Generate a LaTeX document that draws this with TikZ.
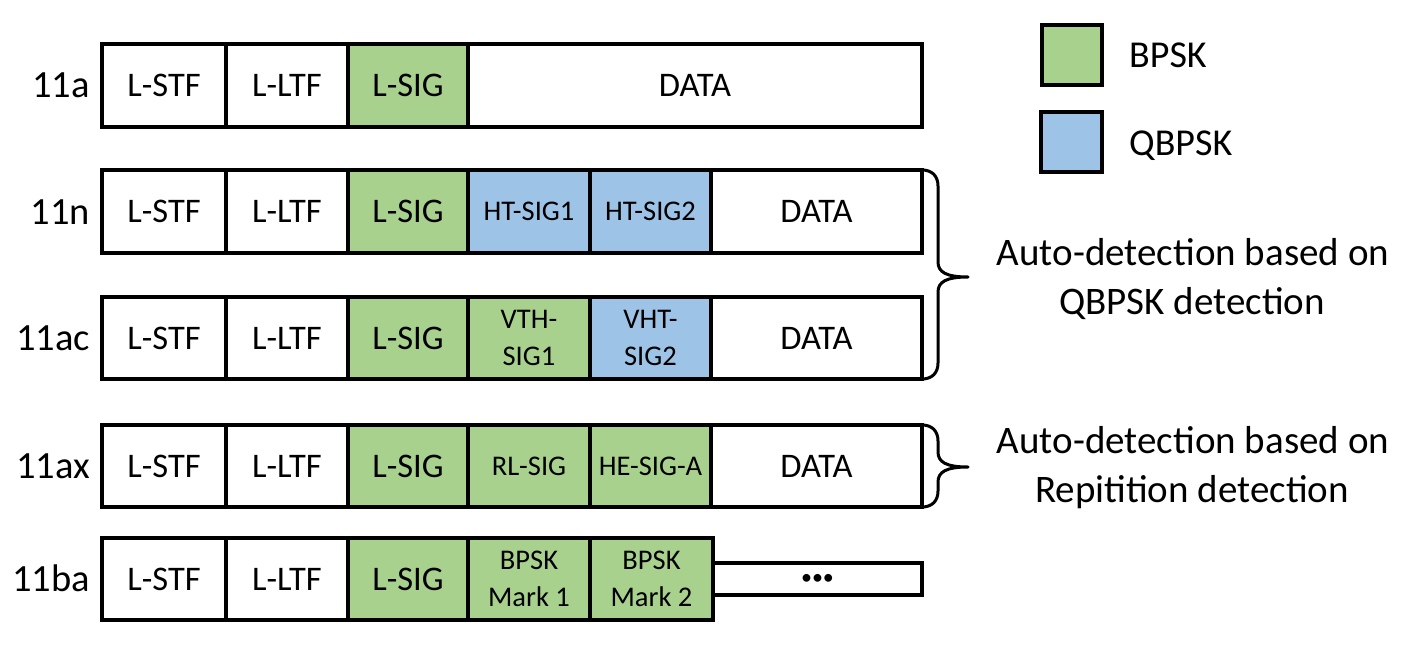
\documentclass[tikz,border=0pt]{standalone}
\usepackage{fontspec}
\setmainfont{Carlito}
\definecolor{bpsk}{RGB}{169,209,142}
\definecolor{qbpsk}{RGB}{157,195,230}
\tikzset{
  cellbox/.style={draw=black, line width=4pt, inner sep=0pt, align=center,
    font=\fontsize{34.5}{40}\selectfont},
  smalltext/.style={font=\fontsize{28.5}{36.5}\selectfont},
  rowlabel/.style={anchor=base east, inner sep=0pt, font=\fontsize{38.5}{44}\selectfont},
  legendbox/.style={draw=black, line width=4pt, inner sep=0pt},
  legendtext/.style={anchor=base west, inner sep=0pt, font=\fontsize{38}{44}\selectfont},
  bracepath/.style={draw=black, line width=3pt, line join=round, line cap=round},
  notetext/.style={anchor=base, inner sep=0pt, font=\fontsize{39}{49}\selectfont},
}
% name, x1, x2, ytop, ybot, options, text
\newcommand\cellat[7]{%
  \node[cellbox, #6, minimum width={(#3-#2)*1pt}, minimum height={(#5-#4)*1pt}]
    (#1) at ({(#2+#3)/2},{(#4+#5)/2}) {#7};}
\begin{document}
\begin{tikzpicture}[x=1pt,y=-1pt]
\useasboundingbox (0,0) rectangle (1426,666);
\fill[white] (0,0) rectangle (1426,666);

% row 11a
\cellat{a1}{102}{226}{44}{127}{fill=white}{L-STF}
\cellat{a2}{226}{348}{44}{127}{fill=white}{L-LTF}
\cellat{a3}{348}{468}{44}{127}{fill=bpsk}{L-SIG}
\cellat{a4}{468}{922}{44}{127}{fill=white}{DATA}
\node[rowlabel] (la) at (90,98) {11a};

% row 11n
\cellat{n1}{102}{226}{170}{253}{fill=white}{L-STF}
\cellat{n2}{226}{348}{170}{253}{fill=white}{L-LTF}
\cellat{n3}{348}{468}{170}{253}{fill=bpsk}{L-SIG}
\cellat{n4}{468}{590}{170}{253}{fill=qbpsk,smalltext}{HT-SIG1}
\cellat{n5}{590}{711}{170}{253}{fill=qbpsk,smalltext}{HT-SIG2}
\cellat{n6}{711}{922}{170}{253}{fill=white}{DATA}
\node[rowlabel] (ln) at (90,224) {11n};

% row 11ac
\cellat{c1}{102}{226}{297}{379}{fill=white}{L-STF}
\cellat{c2}{226}{348}{297}{379}{fill=white}{L-LTF}
\cellat{c3}{348}{468}{297}{379}{fill=bpsk}{L-SIG}
\cellat{c4}{468}{590}{297}{379}{fill=bpsk,smalltext}{VTH-\\SIG1}
\cellat{c5}{590}{711}{297}{379}{fill=qbpsk,smalltext}{VHT-\\SIG2}
\cellat{c6}{711}{922}{297}{379}{fill=white}{DATA}
\node[rowlabel] (lc) at (90,350.5) {11ac};

% row 11ax
\cellat{x1}{102}{226}{425}{507}{fill=white}{L-STF}
\cellat{x2}{226}{348}{425}{507}{fill=white}{L-LTF}
\cellat{x3}{348}{468}{425}{507}{fill=bpsk}{L-SIG}
\cellat{x4}{468}{590}{425}{507}{fill=bpsk,smalltext}{RL-SIG}
\cellat{x5}{590}{711}{425}{507}{fill=bpsk,smalltext}{HE-SIG-A}
\cellat{x6}{711}{922}{425}{507}{fill=white}{DATA}
\node[rowlabel] (lx) at (90,478.5) {11ax};

% row 11ba
\cellat{b6}{713}{922}{563}{595}{fill=white,font=\fontsize{22}{26}\selectfont}{•••}
\cellat{b1}{102}{226}{538}{620}{fill=white}{L-STF}
\cellat{b2}{226}{348}{538}{620}{fill=white}{L-LTF}
\cellat{b3}{348}{468}{538}{620}{fill=bpsk}{L-SIG}
\cellat{b4}{468}{590}{538}{620}{fill=bpsk,smalltext}{BPSK\\Mark 1}
\cellat{b5}{590}{713}{538}{620}{fill=bpsk,smalltext}{BPSK\\Mark 2}
\node[rowlabel] (lb) at (90,591.5) {11ba};

% legend
\node[legendbox, fill=bpsk, minimum width=60pt, minimum height=60pt] (lg1) at (1072,55) {};
\node[legendbox, fill=qbpsk, minimum width=61pt, minimum height=60pt] (lg2) at (1071.5,142) {};
\node[legendtext] (lt1) at (1129,68) {BPSK};
\node[legendtext] (lt2) at (1129,155) {QBPSK};

% braces
\draw[bracepath] (922,170) .. controls (932,170) and (938,176) .. (938,186)
  -- (938,262) .. controls (938,272) and (946,277) .. (968,277)
  .. controls (946,277) and (938,282) .. (938,292)
  -- (938,363) .. controls (938,373) and (932,379) .. (922,379);
\draw[bracepath] (922,425) .. controls (932,425) and (938,431) .. (938,441)
  -- (938,452) .. controls (938,462) and (946,467) .. (968,467)
  .. controls (946,467) and (938,472) .. (938,482)
  -- (938,491) .. controls (938,501) and (932,507) .. (922,507);

% notes
\node[notetext] (q1) at (1193,265) {Auto-detection based on};
\node[notetext] (q2) at (1192,314) {QBPSK detection};
\node[notetext] (r1) at (1193,453) {Auto-detection based on};
\node[notetext] (r2) at (1192,502) {Repitition detection};
\end{tikzpicture}
\end{document}
